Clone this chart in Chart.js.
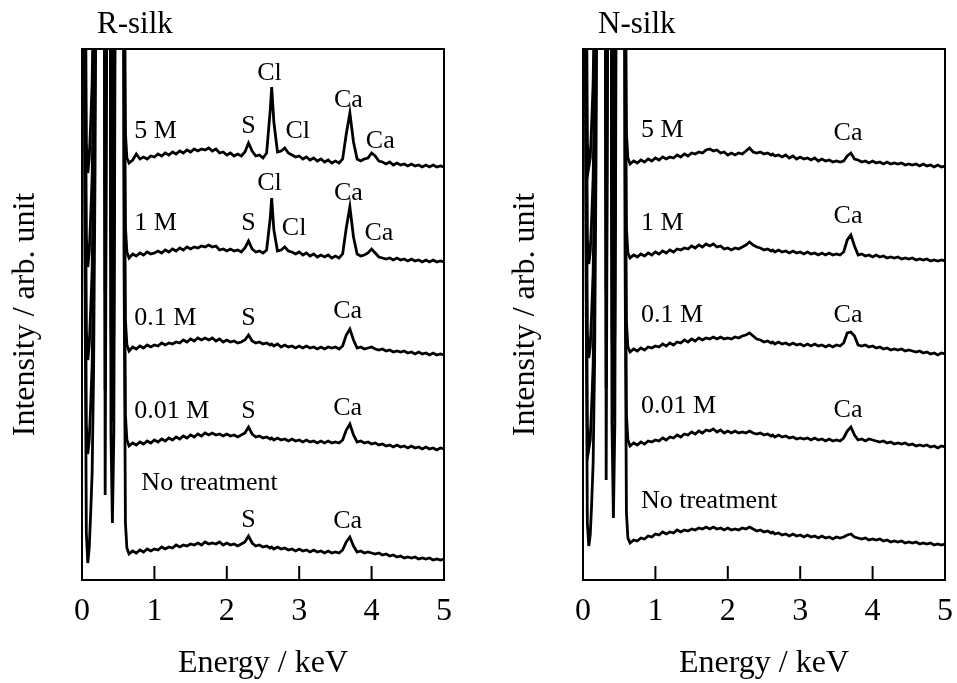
<!DOCTYPE html>
<html lang="en">
<head>
<meta charset="UTF-8">
<title>EDX spectra: R-silk / N-silk</title>
<script src="https://cdn.jsdelivr.net/npm/chart.js"></script>
<style>
  body { margin: 0; background: #fff; }
  #wrap { position: relative; width: 957px; height: 683px; background: #fff; }
  canvas { position: absolute; top: 0; }
</style>
</head>
<body>
<div id="wrap">
  <canvas id="rsilk" width="480" height="683" style="left:0"></canvas>
  <canvas id="nsilk" width="477" height="683" style="left:480px"></canvas>
</div>

<script>
// energy grid (keV), shared by every spectrum
const energy = [
  0.00,0.02,0.04,0.06,0.08,0.10,0.12,0.14,0.16,0.18,0.20,0.22,0.24,0.26,0.28,0.30,
  0.32,0.34,0.36,0.38,0.40,0.42,0.44,0.46,0.48,0.50,0.52,0.54,0.56,0.58,0.60,0.62,
  0.65,0.70,0.75,0.80,0.85,0.90,0.95,1.00,
  1.05,1.10,1.15,1.20,1.25,1.30,1.35,1.40,1.45,1.50,
  1.55,1.60,1.65,1.70,1.75,1.80,1.85,1.90,1.95,2.00,
  2.05,2.10,2.15,2.20,2.25,2.30,2.35,2.40,2.45,2.50,
  2.55,2.60,2.62,2.65,2.70,2.75,2.80,2.85,2.90,2.95,3.00,
  3.05,3.10,3.15,3.20,3.25,3.30,3.35,3.40,3.45,3.50,
  3.55,3.60,3.65,3.70,3.75,3.80,3.85,3.90,3.95,4.00,
  4.05,4.10,4.15,4.20,4.25,4.30,4.35,4.40,4.45,4.50,
  4.55,4.60,4.65,4.70,4.75,4.80,4.85,4.90,4.95,5.00
];

// R-silk intensities (arb. unit, spectra already offset as in the figure)
const rSilk5M = [
  1917,1317,717,437,407,422,457,497,597,797,1117,1617,2217,2517,2317,1517,
  462,917,1717,1517,537,432,537,1017,2217,3717,4417,3917,2217,717,447,422,
  417,420,426,421,423,421,424,423,
  426,424,427,425,428,426,429,427,430,428,
  431,429,431,430,432,429,431,427,428,425,
  427,424,426,424,428,437,429,424,425,422,
  427,470,493,458,428,429,432,427,425,423,424,
  421,423,420,422,419,421,418,420,417,419,
  417,421,446,467,438,421,419,421,422,427,
  424,419,418,416,418,415,417,415,416,414,
  416,414,415,413,415,413,415,413,414,413
];
const rSilk1M = [
  1823,1223,623,343,313,328,363,403,503,703,1023,1523,2123,2423,2223,1423,
  378,823,1623,1423,443,340,443,923,2123,3623,4323,3823,2123,623,353,328,
  322,326,324,327,325,328,326,327,
  329,327,330,328,331,329,332,330,333,331,
  333,332,334,333,335,333,334,330,331,329,
  331,329,330,328,332,339,331,328,329,327,
  330,362,382,350,329,330,333,329,328,326,328,
  325,327,324,326,323,325,323,325,322,324,
  322,326,352,373,343,326,324,325,327,331,
  327,323,322,321,322,320,322,320,321,319,
  321,319,320,318,320,318,320,318,319,318
];
const rSilk01M = [
  1730,1130,530,250,220,235,270,310,410,610,930,1430,2030,2330,2130,1330,
  288,730,1530,1330,350,250,350,830,2030,3530,4230,3730,2030,530,260,235,
  229,233,231,234,232,235,233,235,
  234,237,235,237,236,238,237,240,238,241,
  239,242,240,242,240,242,239,241,238,240,
  238,239,237,238,240,245,239,237,238,236,
  237,235,236,234,236,233,235,233,234,232,234,
  232,234,232,233,231,233,231,233,232,233,
  231,234,245,251,240,232,233,231,232,233,
  231,230,231,229,230,228,229,228,229,227,
  228,226,228,226,227,225,227,225,226,225
];
const rSilk001M = [
  1635,1035,435,155,126,140,175,215,315,515,835,1335,1935,2235,2035,1235,
  190,635,1435,1235,255,158,255,735,1935,3435,4135,3635,1935,435,165,140,
  134,137,135,138,136,139,137,140,
  138,141,139,142,140,143,141,144,142,145,
  143,146,144,147,145,147,145,146,144,146,
  144,145,143,145,147,153,146,143,144,142,
  143,141,142,140,142,140,141,139,141,139,140,
  138,140,138,139,137,139,137,139,137,138,
  137,140,150,156,145,138,139,137,138,136,
  137,135,136,134,135,133,135,133,134,132,
  134,132,133,131,133,131,132,130,132,131
];
const rSilkNone = [
  1527,927,327,47,17,32,67,107,207,407,727,1227,1827,2127,1927,1127,
  85,527,1327,1127,147,57,147,627,1827,3327,4027,3527,1827,327,57,32,
  26,29,27,30,28,31,29,31,
  30,33,31,33,32,35,33,35,34,36,
  35,37,35,38,36,37,36,38,35,37,
  35,36,34,36,38,44,37,34,35,33,
  34,32,33,31,33,31,32,30,31,29,31,
  29,30,28,30,28,29,27,29,27,28,
  27,30,38,43,34,28,29,27,28,27,
  26,27,25,26,24,25,23,24,22,23,
  22,23,21,22,21,22,20,21,20,21
];

// N-silk intensities
const nSilk5M = [
  1917,1317,717,437,413,422,457,497,597,797,1117,1617,2217,2517,2317,1517,
  462,917,1717,1517,537,432,537,1017,2217,3717,4417,3917,2217,717,447,422,
  416,419,417,420,418,421,419,422,
  420,423,421,423,422,425,423,426,424,427,
  426,428,427,430,431,429,430,427,428,425,
  427,425,427,426,429,432,428,427,428,426,
  427,425,426,424,425,423,425,422,424,421,423,
  421,422,420,422,419,421,419,420,418,419,
  418,419,424,427,421,420,418,419,417,419,
  417,418,416,418,416,417,416,417,415,416,
  415,416,414,416,414,415,413,415,413,414
];
const nSilk1M = [
  1822,1222,622,342,316,328,362,402,502,702,1022,1522,2122,2422,2222,1422,
  380,822,1622,1422,442,342,442,922,2122,3622,4322,3822,2122,622,352,327,
  322,325,323,326,324,327,325,328,
  326,329,327,330,328,331,330,332,331,334,
  332,335,333,336,334,336,333,334,331,332,
  330,332,331,333,335,338,335,333,332,330,
  331,329,330,328,330,328,329,327,329,327,328,
  326,328,326,327,325,327,325,327,325,326,
  325,328,340,345,334,325,326,324,325,323,
  325,323,324,322,323,322,323,321,322,321,
  322,320,321,320,321,319,320,319,320,319
];
const nSilk01M = [
  1728,1128,528,248,222,233,268,308,408,608,928,1428,2028,2328,2128,1328,
  288,728,1528,1328,348,252,348,828,2028,3528,4228,3728,2028,528,258,233,
  228,231,229,232,230,233,232,234,
  233,236,234,237,235,238,237,240,238,241,
  239,242,240,242,241,243,241,243,241,242,
  241,243,242,244,245,247,244,241,240,238,
  239,237,238,236,238,236,237,235,237,235,236,
  234,236,234,236,234,235,233,235,233,235,
  234,237,247,248,244,235,234,235,233,234,
  232,233,231,232,230,231,230,231,229,230,
  229,228,229,227,228,226,227,225,227,226
];
const nSilk001M = [
  1635,1035,435,155,131,140,175,215,315,515,835,1335,1935,2235,2035,1235,
  192,635,1435,1235,255,160,255,735,1935,3435,4135,3635,1935,435,165,140,
  134,137,135,138,136,139,138,140,
  139,142,140,143,142,145,143,146,145,148,
  146,149,147,150,149,151,148,150,147,149,
  147,149,147,148,147,149,147,146,147,145,
  146,144,145,143,145,143,144,142,143,141,142,
  141,142,140,142,140,141,139,141,139,140,
  139,142,149,153,145,140,141,139,141,140,
  139,138,139,137,138,136,137,136,137,135,
  136,134,135,134,135,133,134,132,134,133
];
const nSilkNone = [
  1537,937,337,57,34,45,77,117,217,417,737,1237,1837,2137,1937,1137,
  100,537,1337,1137,157,62,157,637,1837,3337,4037,3537,1837,337,67,42,
  37,40,39,42,41,44,43,46,
  45,48,46,48,47,50,48,50,49,51,
  50,52,51,53,51,53,51,52,50,52,
  50,51,50,52,51,53,51,49,50,48,
  49,47,48,46,47,45,46,44,46,44,45,
  43,45,43,44,42,44,42,43,41,43,
  42,43,45,46,43,42,41,42,40,41,
  40,41,39,40,38,39,38,39,37,38,
  37,38,36,37,36,37,35,36,35,36
];

// peak / sample labels: [text, energy keV, intensity, alignment]
const rSilkLabels = [
  ["5 M", 0.72, 442, "left"], ["S", 2.30, 447, "center"], ["Cl", 2.59, 500, "center"],
  ["Cl", 2.98, 442, "center"], ["Ca", 3.68, 473, "center"], ["Ca", 4.12, 432, "center"],
  ["1 M", 0.72, 350, "left"], ["S", 2.30, 350, "center"], ["Cl", 2.59, 390, "center"],
  ["Cl", 2.93, 345, "center"], ["Ca", 3.68, 380, "center"], ["Ca", 4.10, 340, "center"],
  ["0.1 M", 0.72, 255, "left"], ["S", 2.30, 255, "center"], ["Ca", 3.67, 262, "center"],
  ["0.01 M", 0.72, 162, "left"], ["S", 2.30, 162, "center"], ["Ca", 3.67, 165, "center"],
  ["No treatment", 0.82, 90, "left"], ["S", 2.30, 53, "center"], ["Ca", 3.67, 52, "center"]
];
const nSilkLabels = [
  ["5 M", 0.80, 443, "left"], ["Ca", 3.66, 440, "center"],
  ["1 M", 0.80, 350, "left"], ["Ca", 3.66, 357, "center"],
  ["0.1 M", 0.80, 258, "left"], ["Ca", 3.66, 258, "center"],
  ["0.01 M", 0.80, 167, "left"], ["Ca", 3.66, 163, "center"],
  ["No treatment", 0.80, 72, "left"]
];

const SERIF = "'Liberation Serif', 'Times New Roman', serif";

function framePlugin(title, labels) {
    return {
        id: 'frame',
        afterDraw(chart) {
            const { ctx, chartArea: a, scales: { x, y } } = chart;
            ctx.save();
            ctx.strokeStyle = '#000';
            ctx.lineWidth = 2;
            ctx.strokeRect(a.left, a.top, a.right - a.left, a.bottom - a.top);
            // inward tick marks on the energy axis
            [1, 2, 3, 4].forEach(v => {
                const px = x.getPixelForValue(v);
                ctx.beginPath();
                ctx.moveTo(px, a.bottom);
                ctx.lineTo(px, a.bottom - 14);
                ctx.stroke();
            });
            ctx.fillStyle = '#000';
            ctx.textBaseline = 'alphabetic';
            ctx.font = '31px ' + SERIF;
            ctx.textAlign = 'left';
            ctx.fillText(title, a.left + 15, 33);
            ctx.font = '26px ' + SERIF;
            labels.forEach(([t, e, v, al]) => {
                ctx.textAlign = al;
                ctx.fillText(t, x.getPixelForValue(e), y.getPixelForValue(v));
            });
            ctx.restore();
        }
    };
}

function makeChart(id, title, series, labels, axisWidth, titlePad, padRight) {
    const ctx = document.getElementById(id).getContext('2d');
    return new Chart(ctx, {
        type: 'line',
        data: {
            datasets: series.map(vals => ({
                data: energy.map((e, i) => ({ x: e, y: vals[i] })),
                borderColor: '#000',
                borderWidth: 2.8,
                pointRadius: 0,
                tension: 0,
                fill: false
            }))
        },
        options: {
            responsive: false,
            animation: false,
            devicePixelRatio: 1,
            layout: { padding: { top: 49, right: padRight, bottom: 0, left: 0 } },
            plugins: { legend: { display: false }, tooltip: { enabled: false } },
            scales: {
                x: {
                    type: 'linear',
                    min: 0,
                    max: 5,
                    afterFit: s => { s.height = 103; s.paddingLeft = 0; s.paddingRight = 0; },
                    grid: { display: false, drawTicks: false },
                    border: { display: false },
                    ticks: {
                        stepSize: 1,
                        padding: 12,
                        maxRotation: 0,
                        color: '#000',
                        font: { family: SERIF, size: 32 }
                    },
                    title: {
                        display: true,
                        text: 'Energy / keV',
                        color: '#000',
                        padding: { top: 0, bottom: 0 },
                        font: { family: SERIF, size: 32 }
                    }
                },
                y: {
                    min: 0,
                    max: 531,
                    afterFit: s => { s.width = axisWidth; },
                    grid: { display: false, drawTicks: false },
                    border: { display: false },
                    ticks: { display: false },
                    title: {
                        display: true,
                        text: 'Intensity / arb. unit',
                        color: '#000',
                        padding: { top: titlePad, bottom: 0 },
                        font: { family: SERIF, size: 32 }
                    }
                }
            }
        },
        plugins: [framePlugin(title, labels)]
    });
}

makeChart('rsilk', 'R-silk',
    [rSilk5M, rSilk1M, rSilk01M, rSilk001M, rSilkNone], rSilkLabels, 82, 6, 36);
makeChart('nsilk', 'N-silk',
    [nSilk5M, nSilk1M, nSilk01M, nSilk001M, nSilkNone], nSilkLabels, 103, 26, 12);
</script>
</body>
</html>
